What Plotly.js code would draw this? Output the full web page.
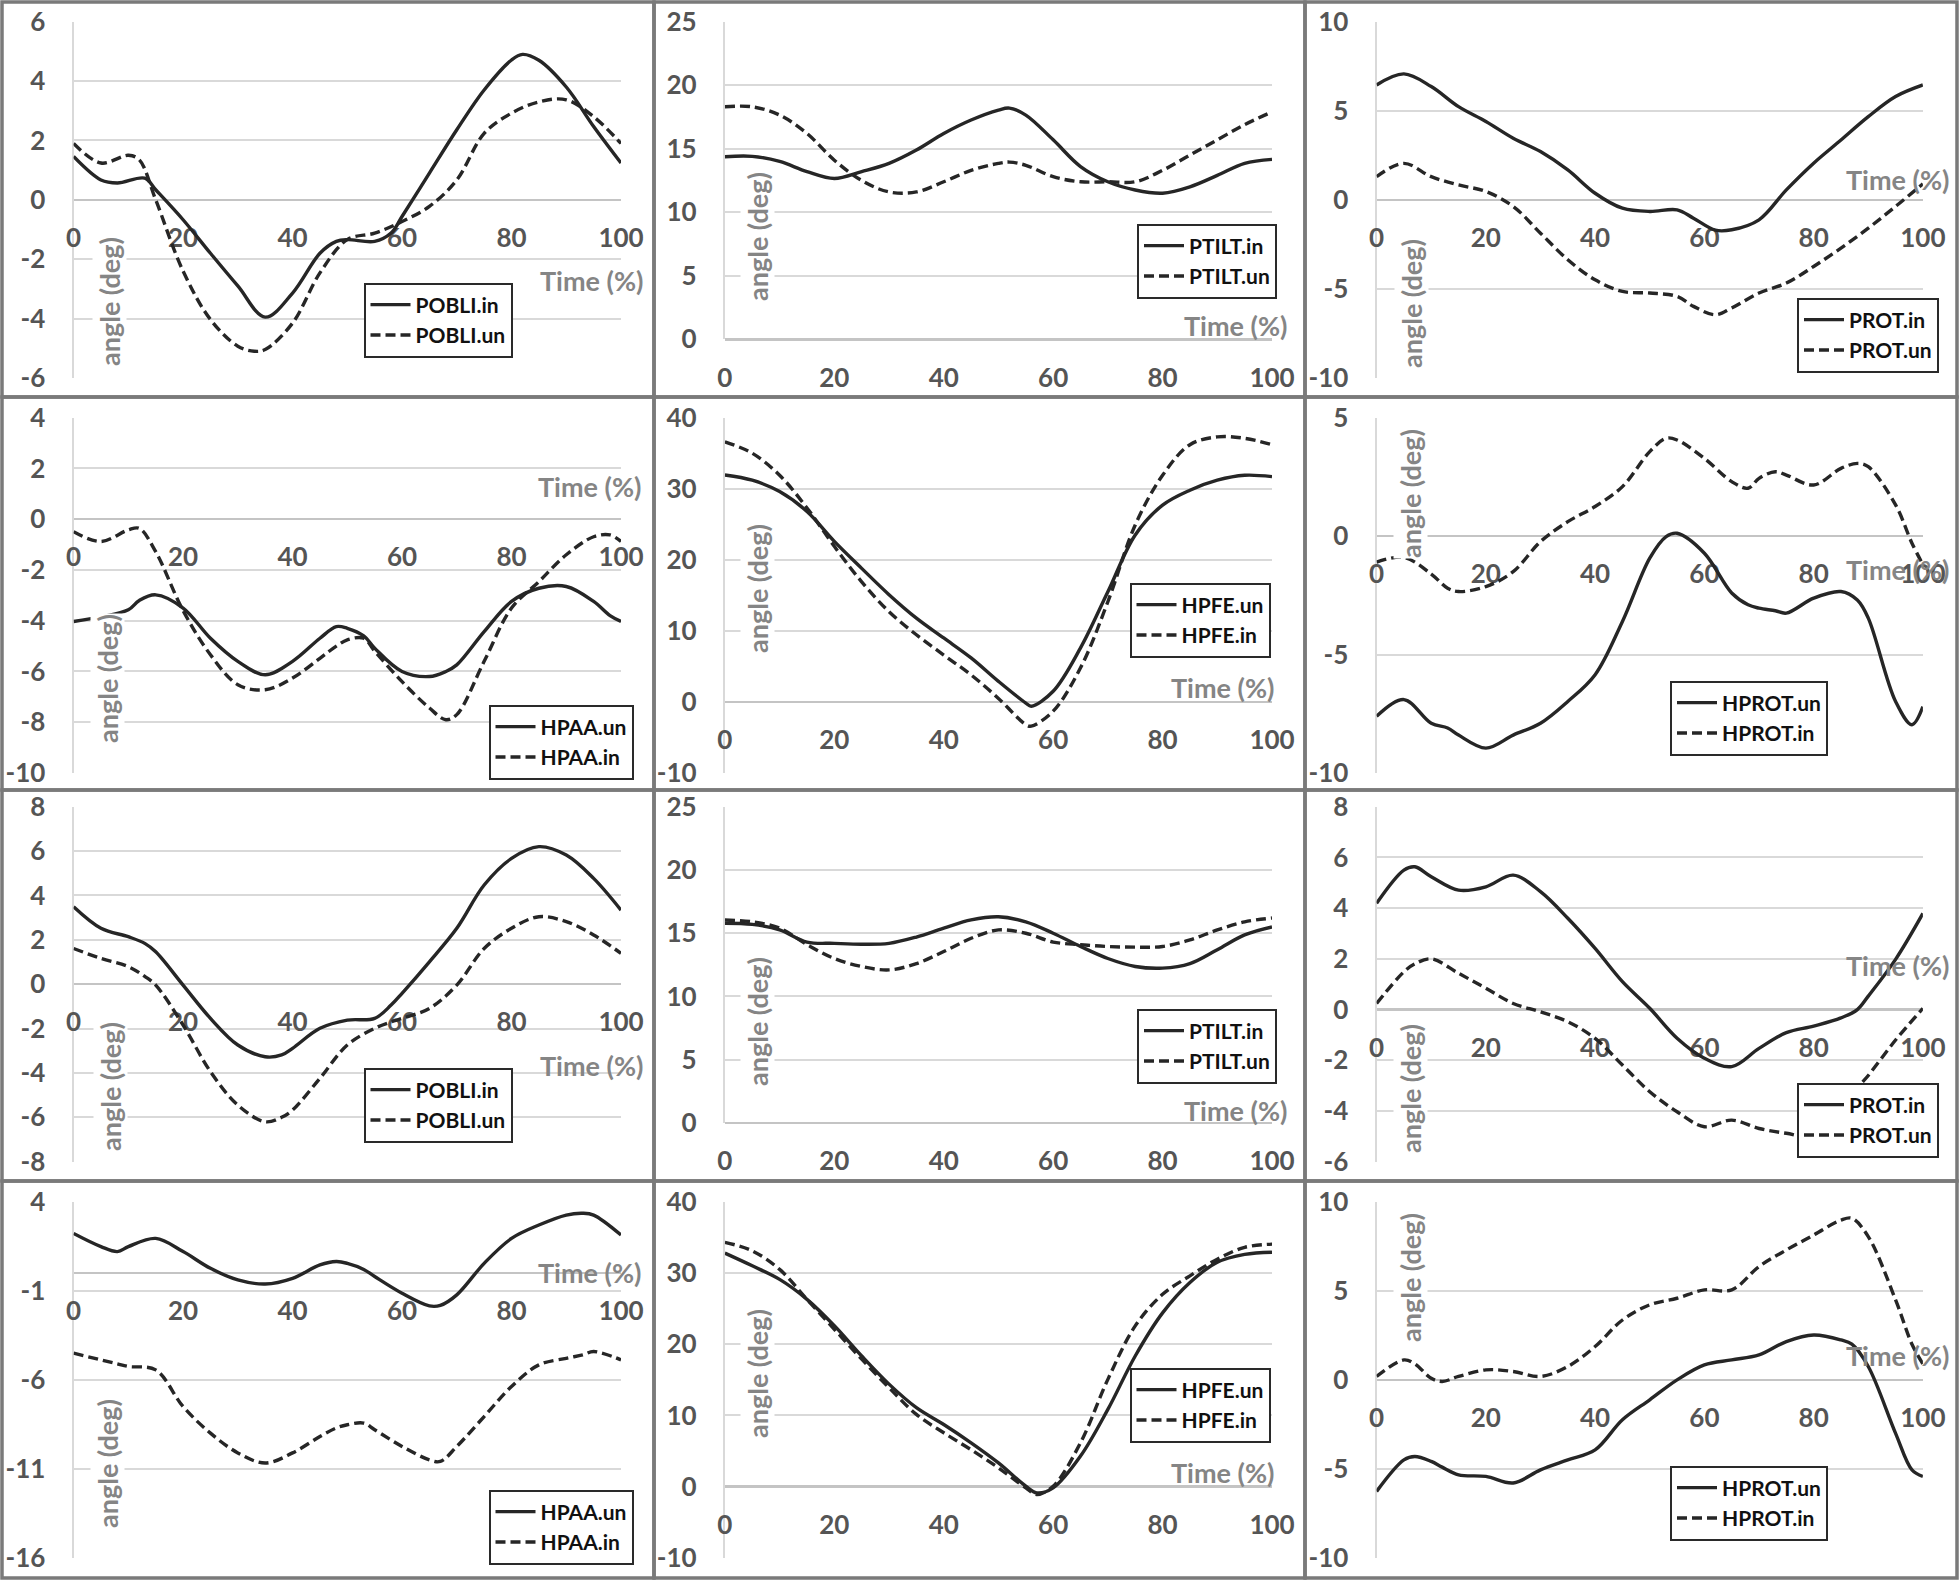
<!DOCTYPE html>
<html><head><meta charset="utf-8">
<script src="https://cdn.plot.ly/plotly-3.0.1.min.js"></script>
<style>html,body{margin:0;padding:0;background:#fff}#chart{width:1959px;height:1580px}</style>
</head><body><div id="chart"></div>
<script>
// ---------- DATA ----------
const xTicks = [0, 20, 40, 60, 80, 100];

// Row 1
const tPOBLI1_in = [0,5,8,13,15,20,25,30,35,40,45,48,50,55,58,60,65,70,75,80,82,85,90,95,100];
const POBLI1_in  = [1.46,0.67,0.57,0.73,0.34,-0.67,-1.8,-2.9,-3.95,-3.14,-1.8,-1.4,-1.34,-1.4,-1.12,-0.56,0.9,2.36,3.7,4.71,4.9,4.7,3.8,2.47,1.24];
const tPOBLI1_un = [0,5,10,12,15,20,25,30,33,35,40,45,50,55,60,65,70,75,80,85,90,95,100];
const POBLI1_un  = [1.9,1.24,1.5,1.35,0,-2.4,-4.03,-4.93,-5.1,-5.04,-4.15,-2.46,-1.34,-1.12,-0.73,-0.22,0.67,2.24,2.92,3.3,3.37,2.8,1.9];

const tPTILT1   = [0,5,10,15,20,25,30,35,40,45,50,52,55,60,65,70,75,80,85,90,95,100];
const PTILT1_in = [14.37,14.4,14.0,13.2,12.66,13.2,13.85,14.9,16.2,17.26,18.04,18.2,17.65,15.7,13.6,12.4,11.75,11.5,12.0,12.9,13.85,14.16];
const PTILT1_un = [18.3,18.3,17.65,16.2,14.1,12.5,11.6,11.6,12.4,13.3,13.85,13.95,13.7,12.8,12.4,12.4,12.4,13.3,14.5,15.7,16.9,17.9];

const tPROT1   = [0,5,10,15,20,25,30,35,40,45,50,55,58,62,65,70,75,80,85,90,95,100];
const PROT1_in = [6.45,7.07,6.36,5.23,4.4,3.46,2.71,1.68,0.37,-0.47,-0.65,-0.56,-1.03,-1.7,-1.68,-1.12,0.56,2.06,3.36,4.67,5.8,6.45];
const PROT1_un = [1.3,2.05,1.3,0.84,0.47,-0.37,-1.87,-3.36,-4.49,-5.14,-5.23,-5.42,-5.98,-6.45,-6.07,-5.23,-4.67,-3.74,-2.71,-1.59,-0.37,0.9];

// Row 2
const tHPAA2   = [0,5,10,12,15,20,25,30,35,40,45,48,50,53,55,60,65,68,70,75,80,85,90,95,98,100];
const HPAA2_un = [-4.03,-3.85,-3.57,-3.2,-2.98,-3.5,-4.69,-5.6,-6.13,-5.6,-4.69,-4.23,-4.3,-4.6,-5.08,-6.0,-6.2,-6.0,-5.74,-4.43,-3.24,-2.72,-2.65,-3.24,-3.8,-4.03];
const HPAA2_in = [-0.49,-0.88,-0.42,-0.36,-1.28,-3.6,-5.34,-6.52,-6.72,-6.26,-5.48,-5.0,-4.75,-4.69,-5.2,-6.4,-7.44,-7.9,-7.7,-5.6,-3.5,-2.46,-1.4,-0.69,-0.62,-0.88];

const tHPFE2   = [0,5,10,15,20,25,30,35,40,45,50,55,56,60,65,70,75,80,85,90,95,100];
const HPFE2_un = [31.94,31.2,29.6,26.8,22.6,18.8,15.1,11.8,9.0,6.2,2.9,-0.16,-0.6,1.5,7.6,15.5,23.5,27.7,29.8,31.2,31.9,31.7];
const HPFE2_in = [36.6,35.0,31.9,27.3,21.9,16.9,12.7,9.45,6.6,3.8,0.5,-3.2,-3.4,-1.3,4.8,14.1,24.9,31.9,36.2,37.3,37.1,36.2];

const tHPROT2   = [0,5,10,13,15,20,25,30,35,40,45,50,53,55,60,65,68,70,73,75,80,85,88,90,95,98,100];
const HPROT2_un = [-7.61,-6.9,-7.9,-8.1,-8.4,-8.95,-8.4,-7.9,-6.98,-5.85,-3.6,-0.93,-0.02,0.12,-0.72,-2.4,-2.9,-3.04,-3.15,-3.25,-2.62,-2.34,-2.7,-3.46,-6.98,-7.96,-7.2];
const HPROT2_in = [-1.1,-0.9,-1.6,-2.2,-2.34,-2.13,-1.5,-0.23,0.61,1.25,2.09,3.57,4.13,4.06,3.28,2.3,2.02,2.44,2.72,2.58,2.16,2.86,3.07,2.93,1.32,-0.3,-1.2];

// Row 3
const tPOBLI3   = [0,5,10,13,15,20,25,30,35,38,40,45,50,55,58,60,65,70,75,80,85,90,95,100];
const POBLI3_in = [3.49,2.52,2.14,1.84,1.46,-0.04,-1.54,-2.74,-3.27,-3.19,-2.89,-1.99,-1.62,-1.54,-0.94,-0.41,1.01,2.52,4.47,5.67,6.2,5.82,4.77,3.34];
const POBLI3_un = [1.61,1.16,0.79,0.35,-0.04,-1.84,-3.94,-5.45,-6.2,-6.0,-5.67,-4.24,-2.74,-1.99,-1.7,-1.54,-1.09,-0.04,1.61,2.52,3.04,2.82,2.22,1.39];

const tPTILT3   = [0,5,10,15,20,25,30,35,40,45,50,55,60,65,70,75,80,85,90,95,100];
const PTILT3_in = [15.79,15.7,15.26,14.3,14.2,14.13,14.2,14.7,15.4,16.05,16.3,15.9,15.0,13.95,13.0,12.37,12.24,12.6,13.7,14.87,15.5];
const PTILT3_un = [16.05,15.9,15.4,14.1,13.0,12.37,12.1,12.6,13.55,14.6,15.26,15.0,14.3,14.1,13.95,13.9,13.95,14.47,15.26,15.9,16.2];

const tPROT3   = [0,5,7,10,15,20,25,30,35,40,45,50,55,60,65,70,75,80,85,88,90,95,100];
const PROT3_in = [4.19,5.5,5.63,5.24,4.71,4.84,5.3,4.65,3.6,2.41,1.1,0.05,-1.13,-1.92,-2.25,-1.53,-0.91,-0.65,-0.33,0.0,0.53,1.98,3.79];
const PROT3_un = [0.24,1.49,1.8,2.0,1.43,0.84,0.24,-0.09,-0.48,-1.14,-2.19,-3.24,-4.03,-4.62,-4.36,-4.69,-4.88,-5.0,-4.2,-3.1,-2.6,-1.2,0.05];

// Row 4
const tHPAA4   = [0,5,8,10,15,20,25,30,35,40,45,48,50,53,55,60,65,67,70,75,80,85,90,93,95,100];
const HPAA4_un = [2.22,1.48,1.2,1.48,1.94,1.2,0.26,-0.39,-0.62,-0.3,0.45,0.64,0.54,0.2,-0.2,-1.14,-1.85,-1.82,-1.23,0.54,1.94,2.69,3.25,3.35,3.25,2.13];
const HPAA4_in = [-4.5,-4.88,-5.1,-5.25,-5.44,-7.5,-8.99,-10.1,-10.67,-10.1,-9.18,-8.7,-8.52,-8.43,-8.8,-9.74,-10.49,-10.58,-9.74,-8.06,-6.37,-5.16,-4.79,-4.6,-4.41,-4.88];

const tHPFE4   = [0,5,10,15,20,25,30,35,40,45,50,55,57,60,65,70,75,80,85,90,95,100];
const HPFE4_un = [32.78,31.0,29.1,26.3,22.6,18.35,14.4,11.1,8.74,6.17,3.35,0.07,-0.86,-0.16,4.3,10.85,18.35,24.4,28.66,31.5,32.6,32.9];
const HPFE4_in = [34.3,33.1,30.5,26.3,22.1,17.9,13.9,10.15,7.57,5.2,2.65,-0.16,-1.1,0.07,6.17,15.07,22.57,27.0,29.6,31.94,33.6,34.05];

const tHPROT4   = [0,5,7,10,12,15,20,25,30,35,40,45,50,55,60,65,70,75,80,85,87,90,95,98,100];
const HPROT4_un = [-6.26,-4.49,-4.3,-4.58,-4.9,-5.33,-5.42,-5.79,-5.05,-4.49,-3.93,-2.24,-1.12,0.0,0.84,1.12,1.4,2.15,2.52,2.24,2.0,0.75,-3.0,-5.05,-5.42];
const HPROT4_in = [0.19,1.12,0.9,0.09,-0.09,0.19,0.56,0.47,0.19,0.75,1.87,3.36,4.21,4.58,5.05,5.05,6.36,7.29,8.13,8.97,9.07,8.04,4.49,2.0,0.9];

// y tick labels
const yTicksPOBLI1 = [-6,-4,-2,0,2,4,6];
const yTicksPTILT  = [0,5,10,15,20,25];
const yTicksPROT1  = [-10,-5,0,5,10];
const yTicksHPAA2  = [-10,-8,-6,-4,-2,0,2,4];
const yTicksHPFE   = [-10,0,10,20,30,40];
const yTicksHPROT2 = [-10,-5,0,5];
const yTicksPOBLI3 = [-8,-6,-4,-2,0,2,4,6,8];
const yTicksPROT3  = [-6,-4,-2,0,2,4,6,8];
const yTicksHPAA4  = [-16,-11,-6,-1,4];
const yTicksHPROT4 = [-10,-5,0,5,10];

// ---------- LAYOUT ----------
const W = 1959, H = 1580;
const px = x => x / W, py = y => 1 - y / H;
const FONT = 'Lato, "Open Sans", sans-serif';
const cols = [[73.6, 621], [724.9, 1272], [1376.6, 1922.9]];

const panels = [
  {c:0, top:21.7, bot:378, ticks:yTicksPOBLI1, s:[[tPOBLI1_in,POBLI1_in,'POBLI.in',0],[tPOBLI1_un,POBLI1_un,'POBLI.un',1]], leg:[438,320], time:[591,280], ang:[109,302]},
  {c:1, top:21.7, bot:339.3, ticks:yTicksPTILT, s:[[tPTILT1,PTILT1_in,'PTILT.in',0],[tPTILT1,PTILT1_un,'PTILT.un',1]], leg:[1207,261], time:[1235,325], ang:[757,237]},
  {c:2, top:21.7, bot:378, ticks:yTicksPROT1, s:[[tPROT1,PROT1_in,'PROT.in',0],[tPROT1,PROT1_un,'PROT.un',1]], leg:[1868,335], time:[1897,180], ang:[1411,304]},
  {c:0, top:417.7, bot:773, ticks:yTicksHPAA2, s:[[tHPAA2,HPAA2_un,'HPAA.un',0],[tHPAA2,HPAA2_in,'HPAA.in',1]], leg:[561,742], time:[589,487], ang:[107,679]},
  {c:1, top:417.7, bot:773, ticks:yTicksHPFE, s:[[tHPFE2,HPFE2_un,'HPFE.un',0],[tHPFE2,HPFE2_in,'HPFE.in',1]], leg:[1200,620], time:[1222,687], ang:[757,589]},
  {c:2, top:417.7, bot:773, ticks:yTicksHPROT2, s:[[tHPROT2,HPROT2_un,'HPROT.un',0],[tHPROT2,HPROT2_in,'HPROT.in',1]], leg:[1749,718], time:[1897,570], ang:[1410,494]},
  {c:0, top:806.7, bot:1161.7, ticks:yTicksPOBLI3, s:[[tPOBLI3,POBLI3_in,'POBLI.in',0],[tPOBLI3,POBLI3_un,'POBLI.un',1]], leg:[438,1105], time:[591,1065], ang:[110,1087]},
  {c:1, top:806.7, bot:1123, ticks:yTicksPTILT, s:[[tPTILT3,PTILT3_in,'PTILT.in',0],[tPTILT3,PTILT3_un,'PTILT.un',1]], leg:[1207,1046], time:[1235,1110], ang:[757,1022]},
  {c:2, top:806.7, bot:1161.7, ticks:yTicksPROT3, s:[[tPROT3,PROT3_in,'PROT.in',0],[tPROT3,PROT3_un,'PROT.un',1]], leg:[1868,1120], time:[1897,965], ang:[1410,1089]},
  {c:0, top:1201.7, bot:1558, ticks:yTicksHPAA4, s:[[tHPAA4,HPAA4_un,'HPAA.un',0],[tHPAA4,HPAA4_in,'HPAA.in',1]], leg:[561,1527], time:[589,1272], ang:[107,1464]},
  {c:1, top:1201.7, bot:1558, ticks:yTicksHPFE, s:[[tHPFE4,HPFE4_un,'HPFE.un',0],[tHPFE4,HPFE4_in,'HPFE.in',1]], leg:[1200,1405], time:[1222,1472], ang:[757,1374]},
  {c:2, top:1201.7, bot:1558, ticks:yTicksHPROT4, s:[[tHPROT4,HPROT4_un,'HPROT.un',0],[tHPROT4,HPROT4_in,'HPROT.in',1]], leg:[1749,1503], time:[1897,1355], ang:[1410,1278]}
];

const tickFont = {family: FONT, size: 26, color: '#555555', weight: 'bold'};
const titleFont = {family: FONT, size: 27, color: '#858585', weight: 'bold'};
const data = [];
const layout = {
  width: W, height: H, margin: {l:0, r:0, t:0, b:0},
  paper_bgcolor: '#ffffff', plot_bgcolor: 'rgba(0,0,0,0)',
  showlegend: true, annotations: [], shapes: [], hovermode: false
};

panels.forEach((p, i) => {
  const n = i + 1, sfx = n > 1 ? String(n) : '';
  const xr = 'x' + sfx, yr = 'y' + sfx, lg = 'legend' + sfx;
  const ymin = p.ticks[0], ymax = p.ticks[p.ticks.length - 1];
  const zeroPix = p.bot - (0 - ymin) / (ymax - ymin) * (p.bot - p.top);
  layout['xaxis' + sfx] = {
    domain: [px(cols[p.c][0]), px(cols[p.c][1])], range: [0, 100],
    anchor: 'free', position: py(zeroPix),
    tickmode: 'array', tickvals: xTicks, ticktext: xTicks.map(String),
    showgrid: false, zeroline: false, showline: false,
    ticks: 'outside', ticklen: 15, tickcolor: 'rgba(0,0,0,0)',
    tickfont: tickFont, layer: 'below traces', fixedrange: true
  };
  layout['yaxis' + sfx] = {
    domain: [py(p.bot), py(p.top)], range: [ymin, ymax], anchor: xr,
    tickmode: 'array', tickvals: p.ticks, ticktext: p.ticks.map(String),
    showgrid: true, gridcolor: '#d9d9d9', gridwidth: 2,
    zeroline: true, zerolinecolor: '#c4c4c4', zerolinewidth: 2.5,
    showline: true, linecolor: '#d9d9d9', linewidth: 2,
    ticks: 'outside', ticklen: 21, tickcolor: 'rgba(0,0,0,0)',
    tickfont: tickFont, layer: 'below traces', fixedrange: true
  };
  p.s.forEach(([xs, ys, name, dashed]) => {
    data.push({
      type: 'scatter', mode: 'lines', x: xs, y: ys, name: name,
      xaxis: xr, yaxis: yr, legend: lg, hoverinfo: 'skip',
      line: {shape: 'spline', smoothing: 1, color: '#262626', width: 3.4, dash: dashed ? '10px,5px' : 'solid'}
    });
  });
  layout[lg] = {
    x: px(p.leg[0]), y: py(p.leg[1]), xanchor: 'center', yanchor: 'middle',
    bgcolor: '#ffffff', bordercolor: '#2a2a2a', borderwidth: 2,
    font: {family: FONT, size: 21, color: '#111111', weight: 'bold'},
    tracegroupgap: 0, itemwidth: 40
  };
  layout.annotations.push({
    xref: 'paper', yref: 'paper', x: px(p.time[0]), y: py(p.time[1]),
    text: 'Time (%)', showarrow: false, xanchor: 'center', yanchor: 'middle',
    font: titleFont
  });
  layout.annotations.push({
    xref: 'paper', yref: 'paper', x: px(p.ang[0]), y: py(p.ang[1]),
    text: 'angle (deg)', showarrow: false, xanchor: 'center', yanchor: 'middle',
    textangle: -90, bgcolor: '#ffffff', borderpad: 0,
    font: titleFont
  });
});

// panel frames
const fx = [[2, 654], [654, 1305], [1305, 1957]];
const fy = [[2, 397], [397, 790], [790, 1181], [1181, 1578]];
fy.forEach(r => fx.forEach(c => {
  layout.shapes.push({type: 'rect', xref: 'paper', yref: 'paper', layer: 'above',
    x0: px(c[0]), x1: px(c[1]), y0: py(r[1]), y1: py(r[0]),
    line: {color: '#7a7a7a', width: 3.5}, fillcolor: 'rgba(0,0,0,0)'});
}));

Plotly.newPlot('chart', data, layout, {displayModeBar: false, staticPlot: true});
</script>
</body></html>
